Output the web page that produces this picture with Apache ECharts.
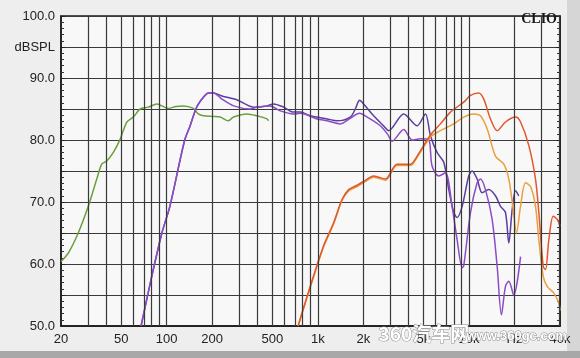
<!DOCTYPE html>
<html><head><meta charset="utf-8">
<script src="https://cdn.jsdelivr.net/npm/echarts@6/dist/echarts.min.js"></script>
<style>html,body{margin:0;padding:0;background:#eeeeee}#c{width:580px;height:358px}</style>
</head><body><div id="c"></div>
<script>
// grid frequencies (vertical lines) and axis labels
const gridHz=[20,30,40,50,60,70,80,90,100,200,300,400,500,600,700,800,900,1000,2000,3000,4000,5000,6000,7000,8000,9000,10000,20000,30000,40000];
const xLabelHz=[20,50,100,200,500,1000,2000,5000,10000,20000,40000];
const xLabelText=['20','50','100','200','500','1k','2k','5k','10k','Hz','40k'];
const yMin=50, yMax=100, yStep=5;

// woofer (green)
const greenHz=[20,22.4,26,30.3,34.5,37.2,40.1,44.4,49.2,54.5,60.2,66.7,75.7,86.1,92.9,102.7,115,129,150,162,175,204,226,256,277,340,395,461,472];
const greenDb=[60.4,61.8,65.0,69.3,73.7,76.1,76.6,78.0,80.1,82.9,83.7,85.0,85.3,85.8,85.5,85.1,85.4,85.5,85.1,84.2,83.9,83.8,83.7,83.1,83.7,84.2,83.9,83.4,83.1];

// midrange (blue-purple)
const darkHz=[67.7,79.7,93,105,131,143,158,175,189,204,232,291,375,461,509,593,691,765,891,1150,1340,1640,1770,1890,2010,2340,2720,2940,3700,4540,5150,5560,6150,6810,7350,7930,8350,9010,9960,10490,11320,12220,13520,14970,16160,17430,18340,19310,20310,21340];
const darkDb=[50,58,65,69.3,79.8,82.3,85.3,86.9,87.6,87.6,87.1,86.5,85.3,85.5,85.8,85.3,84.5,84.5,83.9,83.4,83.1,83.7,85.0,86.4,85.8,83.9,82.3,81.5,84.2,82.3,84.2,80.7,78.0,76.4,72.0,68.3,67.5,69.3,74.2,75.0,73.7,71.5,72.0,71.0,69.3,68.3,63.4,68.8,71.8,71.0];

// midrange (violet)
const violetHz=[67.7,79.7,93,105,131,143,158,175,189,204,232,277,357,395,484,564,691,765,987,1150,1410,1640,1890,2120,2590,2900,3100,3700,4200,4800,5400,5700,6310,6980,7730,8350,9010,9230,10230,11320,11910,12850,14230,15360,16400,17430,18340,19770,21930];
const violetDb=[50,58,65,69.3,79.8,82.3,85.3,86.9,87.6,87.6,86.6,85.5,85.0,85.3,85.5,84.7,84.2,84.3,83.4,83.1,82.6,83.5,84.3,83.7,82.3,80.9,79.8,81.7,80.0,80.2,80.1,75.8,74.2,74.7,69.3,63.9,59.4,59.7,68.3,73.1,73.7,72.0,67.2,59.6,51.8,56.4,57.2,55.0,61.2];

// tweeter (red-orange)
const redHz=[740,891,1090,1270,1445,1600,1820,2060,2340,2800,3340,4100,4540,5560,6470,7540,9230,10230,11610,12530,13870,15360,17430,20310,21930,24890,27540,28970,30980,32080,33750,36070,38350,40000];
const redDb=[50,56.4,62.9,66.6,70.4,72.0,72.7,73.5,74.2,73.7,76.1,76.1,77.4,80.8,82.6,84.5,86.1,87.2,87.6,86.6,83.4,81.5,82.9,83.7,82.9,79.1,73.7,68.3,59.6,59.1,63.9,67.7,67.2,66.1];

// tweeter (orange)
const orangeHz=[740,891,1090,1270,1445,1600,1820,2060,2340,2800,3340,4100,4540,5560,6470,7930,9230,10760,11910,13180,14970,16990,18340,19600,20620,21930,23660,25540,27540,28970,30980,32900,36420,39260,40000];
const orangeDb=[50,56.2,62.7,66.4,70.2,71.8,72.5,73.3,74.0,73.5,75.9,75.9,77.2,80.5,81.5,82.6,83.7,84.2,83.9,81.8,77.4,76.1,73.7,68.8,65.0,69.3,73.1,72.5,69.3,63.9,58.0,56.4,55.3,53.7,52.5];

const lg=Math.log10;
const pts=(hz,db)=>hz.map((f,i)=>[lg(f),db[i]]);
const curve=(name,hz,db,color)=>({name,type:'line',data:pts(hz,db),showSymbol:false,smooth:0.3,
  lineStyle:{color,width:1.5},z:3,animation:false,silent:true});

const chart=echarts.init(document.getElementById('c'),null,{renderer:'canvas'});
const yAxisBase={type:'value',min:yMin,max:yMax,interval:yStep,
  axisLine:{show:true,lineStyle:{color:'#1a1a1a',width:1.5}},
  axisTick:{show:true,inside:true,length:4,lineStyle:{color:'#222'}},
  minorTick:{show:true,splitNumber:5,length:3,lineStyle:{color:'#333'}},
};
chart.setOption({
  backgroundColor:'#eeeeee',
  animation:false,
  grid:{left:61,right:20,top:16,bottom:32,show:true,backgroundColor:'#f8f8f8',borderColor:'#1a1a1a',borderWidth:1.5},
  xAxis:{type:'value',min:lg(20),max:lg(40000),
    axisLine:{show:true,lineStyle:{color:'#1a1a1a',width:1.5}},
    axisTick:{show:false},splitLine:{show:false},
    axisLabel:{customValues:xLabelHz.map(lg),margin:7,color:'#222',fontSize:13,fontFamily:'Liberation Sans, Arial, sans-serif',
      formatter:v=>{const i=xLabelHz.findIndex(f=>Math.abs(lg(f)-v)<1e-6);return i>=0?xLabelText[i]:'';}}},
  yAxis:[Object.assign({},yAxisBase,{position:'left',
    splitLine:{show:true,lineStyle:{color:'#3a3a3a',width:1.2}},
    axisLabel:{margin:6,color:'#222',fontSize:13,fontFamily:'Liberation Sans, Arial, sans-serif',
      formatter:v=>v===95?'dBSPL':(v%10===0?v.toFixed(1):'')}}),
    Object.assign({},yAxisBase,{position:'right',axisLabel:{show:false},splitLine:{show:false}})],
  series:[
    {type:'line',data:[],z:1,silent:true,
      markLine:{silent:true,symbol:['none','none'],label:{show:false},animation:false,
        lineStyle:{color:'#3a3a3a',width:1.2,type:'solid'},
        data:gridHz.map(f=>({xAxis:lg(f)}))}},
    curve('woofer',greenHz,greenDb,'#6d9e3e'),
    curve('mid A',darkHz,darkDb,'#5b3f9f'),
    curve('mid B',violetHz,violetDb,'#8d4cc6'),
    curve('tweeter A',orangeHz,orangeDb,'#eaa03e'),
    curve('tweeter B',redHz,redDb,'#e0582b'),
  ],
  graphic:[
    {type:'rect',left:0,top:351,shape:{width:580,height:7},style:{fill:'#a8a8a8'},z:0},
    {type:'rect',left:567,top:0,shape:{width:13,height:351},style:{fill:'#d6d6d6'},z:0},
    {type:'text',right:23,top:12,style:{text:'CLIO',font:'bold 14px "Liberation Serif", serif',fill:'#1a1a1a'},z:10},
    {type:'text',left:378,top:324,style:{text:'360汽车网',font:'bold 19px "Noto Sans CJK SC", sans-serif',fill:'#ffffff',stroke:'#8f8f8f',lineWidth:1},z:20},
    {type:'text',left:466,top:329,style:{text:'www.360gc.com',font:'bold 13px "Liberation Sans", sans-serif',fill:'#ffffff',stroke:'#8f8f8f',lineWidth:1},z:20}
  ]
});
</script></body></html>
